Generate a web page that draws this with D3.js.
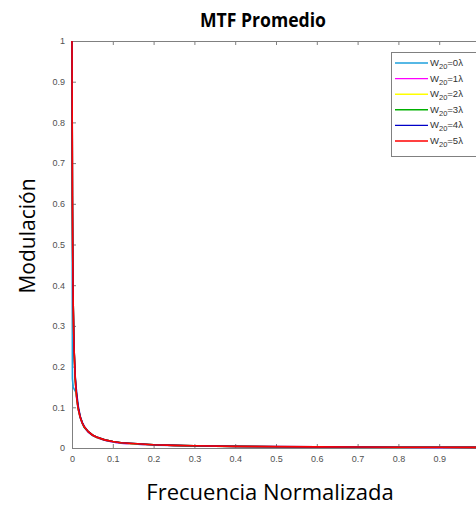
<!DOCTYPE html>
<html>
<head>
<meta charset="utf-8">
<script src="https://cdn.jsdelivr.net/npm/d3@7"></script>
<style>
html,body{margin:0;padding:0;background:#fff;}
svg{display:block;}
</style>
</head>
<body>
<div id="chart"></div>
<script>
// ---- data ----
const freq = [0, 0.001, 0.002, 0.003, 0.005, 0.008, 0.01, 0.012, 0.015, 0.02, 0.025, 0.03, 0.04, 0.05, 0.06, 0.08, 0.1, 0.12, 0.15, 0.2, 0.25, 0.3, 0.4, 0.5, 0.6, 0.7, 0.8, 0.9, 1.0];
const seriesNames = ["0", "1", "2", "3", "4", "5"];
const seriesColors = ["#1ea0dc", "#ff00ff", "#ffff00", "#00b000", "#0000c8", "#ff0000"];
const w0 = [1, 0.17, 0.16, 0.15, 0.145, 0.14, 0.135, 0.118, 0.097, 0.075, 0.061, 0.051, 0.039, 0.031, 0.026, 0.019, 0.015, 0.012, 0.010, 0.007, 0.006, 0.005, 0.0038, 0.003, 0.0025, 0.0021, 0.0018, 0.0016, 0.0014];
const w1 = [1, 0.60, 0.44, 0.34, 0.24, 0.165, 0.138, 0.118, 0.097, 0.075, 0.061, 0.051, 0.039, 0.031, 0.026, 0.019, 0.015, 0.012, 0.010, 0.0075, 0.006, 0.005, 0.0038, 0.003, 0.0025, 0.0021, 0.0018, 0.0016, 0.0014];
const w2 = [1, 0.61, 0.44, 0.345, 0.242, 0.168, 0.14, 0.122, 0.099, 0.077, 0.062, 0.052, 0.040, 0.032, 0.026, 0.020, 0.016, 0.013, 0.010, 0.0078, 0.0063, 0.0052, 0.0039, 0.0032, 0.0026, 0.0022, 0.0019, 0.0017, 0.0015];
const w3 = [1, 0.61, 0.45, 0.35, 0.243, 0.169, 0.141, 0.121, 0.098, 0.076, 0.062, 0.051, 0.040, 0.032, 0.027, 0.020, 0.016, 0.013, 0.011, 0.0079, 0.0064, 0.0053, 0.0039, 0.0032, 0.0027, 0.0022, 0.0019, 0.0017, 0.0015];
const w4 = [1, 0.62, 0.45, 0.35, 0.245, 0.175, 0.15, 0.13, 0.104, 0.078, 0.063, 0.053, 0.040, 0.032, 0.027, 0.020, 0.016, 0.013, 0.011, 0.008, 0.0065, 0.0054, 0.004, 0.0033, 0.0027, 0.0023, 0.002, 0.0018, 0.0016];
const w5 = [1, 0.62, 0.45, 0.35, 0.245, 0.17, 0.142, 0.12, 0.098, 0.076, 0.062, 0.052, 0.040, 0.032, 0.027, 0.020, 0.016, 0.013, 0.011, 0.008, 0.0065, 0.0054, 0.004, 0.0033, 0.0027, 0.0023, 0.002, 0.0018, 0.0016];
const seriesValues = [w0, w1, w2, w3, w4, w5];
const xTicks = [0, 0.1, 0.2, 0.3, 0.4, 0.5, 0.6, 0.7, 0.8, 0.9];
const yTicks = [0, 0.1, 0.2, 0.3, 0.4, 0.5, 0.6, 0.7, 0.8, 0.9, 1];
const titleText = "MTF Promedio";
const xLabel = "Frecuencia Normalizada";
const yLabel = "Modulación";

// ---- layout ----
const W = 476, H = 510;
const L = 72, R = 480, T = 41, B = 448;
const svg = d3.select("#chart").append("svg").attr("width", W).attr("height", H);

const x = d3.scaleLinear().domain([0, 1]).range([L, R]);
const y = d3.scaleLinear().domain([0, 1]).range([B, T]);

const fmt = d => d === 0 ? "0" : d === 1 ? "1" : d3.format(".1f")(d);
const axisColor = "#808080";
const tickTextColor = "#505050";

function styleAxis(g) {
  g.select(".domain").attr("stroke", axisColor).attr("stroke-width", 1);
  g.selectAll(".tick line").attr("stroke", axisColor);
  g.selectAll(".tick text").attr("fill", tickTextColor).attr("font-family", "Liberation Sans, Arial, sans-serif").attr("font-size", 9);
}

// bottom axis
svg.append("g").attr("transform", `translate(0,${B})`)
  .call(d3.axisBottom(x).tickValues(xTicks).tickFormat(fmt).tickSizeInner(-4).tickSizeOuter(0).tickPadding(8))
  .call(styleAxis);
// top axis
svg.append("g").attr("transform", `translate(0,${T})`)
  .call(d3.axisTop(x).tickValues(xTicks).tickFormat("").tickSizeInner(-4).tickSizeOuter(0))
  .call(styleAxis);
// left axis
svg.append("g").attr("transform", `translate(${L},0)`)
  .call(d3.axisLeft(y).tickValues(yTicks).tickFormat(fmt).tickSizeInner(-4).tickSizeOuter(0).tickPadding(7))
  .call(styleAxis);

// lines
const line = d3.line().x((d, i) => x(freq[i])).y(d => y(d));
seriesValues.forEach((vals, k) => {
  svg.append("path").datum(vals)
    .attr("fill", "none")
    .attr("stroke", seriesColors[k])
    .attr("stroke-width", 1.6)
    .attr("d", line);
});

// legend
const lg = svg.append("g");
lg.append("rect").attr("x", 391.5).attr("y", 52.5).attr("width", 90).attr("height", 104)
  .attr("fill", "#fff").attr("stroke", "#808080").attr("stroke-width", 1);
seriesNames.forEach((n, k) => {
  const yy = 63 + k * 15.6;
  lg.append("line").attr("x1", 395).attr("x2", 428).attr("y1", yy).attr("y2", yy)
    .attr("stroke", seriesColors[k]).attr("stroke-width", 1.4);
  const t = lg.append("text").attr("x", 430).attr("y", yy + 3)
    .attr("font-family", "Liberation Sans, Arial, sans-serif").attr("font-size", 9.5).attr("fill", "#333");
  t.append("tspan").text("W");
  t.append("tspan").attr("dy", 3).attr("font-size", 7.5).text("20");
  t.append("tspan").attr("dy", -3).text("=" + n + "λ");
});

// title and labels
svg.append("text").attr("x", 263).attr("y", 27).attr("text-anchor", "middle")
  .attr("font-family", "Open Sans, sans-serif").attr("font-weight", "bold").attr("font-size", 20)
  .attr("textLength", 126).attr("lengthAdjust", "spacingAndGlyphs")
  .attr("fill", "#000").text(titleText);
svg.append("text").attr("x", 270).attr("y", 500).attr("text-anchor", "middle")
  .attr("font-family", "Open Sans, sans-serif").attr("font-size", 22)
  .attr("fill", "#000").text(xLabel);
svg.append("text").attr("transform", "translate(35,236) rotate(-90)").attr("text-anchor", "middle")
  .attr("font-family", "Open Sans, sans-serif").attr("font-size", 21)
  .attr("fill", "#000").text(yLabel);
</script>
</body>
</html>
